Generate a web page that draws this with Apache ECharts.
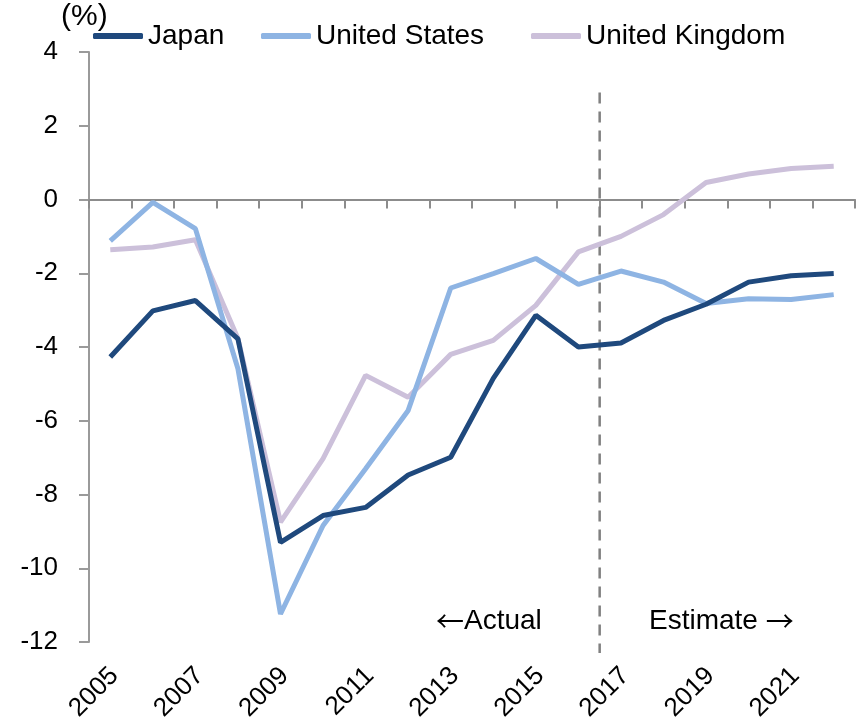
<!DOCTYPE html>
<html>
<head>
<meta charset="utf-8">
<script src="https://cdn.jsdelivr.net/npm/echarts@6/dist/echarts.min.js"></script>
<style>
  html, body { margin: 0; padding: 0; background: #fff; }
  #chart { width: 863px; height: 724px; }
</style>
</head>
<body>
<div id="chart"></div>
<script>
const years = ["2005", "2006", "2007", "2008", "2009", "2010", "2011", "2012", "2013",
  "2014", "2015", "2016", "2017", "2018", "2019", "2020", "2021", "2022"];

const japan = [-4.27, -3.02, -2.74, -3.78, -9.30, -8.57, -8.35, -7.47, -6.99,
  -4.85, -3.14, -4.00, -3.89, -3.28, -2.84, -2.24, -2.07, -2.01];
const unitedStates = [-1.12, -0.08, -0.79, -4.59, -11.24, -8.84, -7.30, -5.72, -2.40,
  -2.01, -1.60, -2.30, -1.94, -2.24, -2.82, -2.69, -2.71, -2.58];
const unitedKingdom = [-1.36, -1.29, -1.09, -3.77, -8.75, -7.03, -4.77, -5.36, -4.20,
  -3.82, -2.87, -1.42, -1.00, -0.41, 0.46, 0.69, 0.84, 0.90];

const yTicks = { min: -12, max: 4, interval: 2 };
// boundary between actual and estimate, in years
const dividerYear = 2016.5;
const dividerSpan = [2.9, -12.3];

const myChart = echarts.init(document.getElementById("chart"));

const font = "Liberation Sans, Arial";
function legendFor(name, left) {
  return {
    data: [name],
    left: left,
    top: 22,
    icon: "roundRect",
    itemWidth: 50,
    itemHeight: 6,
    itemGap: 0,
    padding: 0,
    textStyle: { fontSize: 28, color: "#000", fontFamily: font }
  };
}
const arrowStyle = { fontSize: 28, fontFamily: "Noto Sans CJK JP", fill: "#000" };

myChart.setOption({
  animation: false,
  color: ["#1F497D", "#8EB4E3", "#CCC0DA"],
  grid: { left: 89, right: 8, top: 52, bottom: 82, outerBoundsMode: "none" },
  legend: [
    legendFor("Japan", 93),
    legendFor("United States", 261),
    legendFor("United Kingdom", 531)
  ],
  graphic: [
    {
      type: "text", left: 61, top: 2,
      style: { text: "(%)", fontSize: 30, fontFamily: font, fill: "#000" }
    },
    {
      type: "text", left: 436, top: 607,
      style: {
        text: "{a|←}Actual", fontSize: 28, fontFamily: font, fill: "#000",
        rich: { a: arrowStyle }
      }
    },
    {
      type: "text", left: 649, top: 607,
      style: {
        text: "Estimate {a|→}", fontSize: 28, fontFamily: font, fill: "#000",
        rich: { a: arrowStyle }
      }
    }
  ],
  xAxis: [
    {
      type: "category",
      data: years,
      boundaryGap: true,
      axisLine: { onZero: true, onZeroAxisIndex: 0, lineStyle: { color: "#8c8c8c", width: 2 } },
      axisTick: { show: true, inside: false, length: 9, lineStyle: { color: "#8c8c8c", width: 2 } },
      axisLabel: { show: false }
    },
    {
      type: "category",
      data: years,
      position: "bottom",
      axisLine: { show: false },
      axisTick: { show: false },
      axisLabel: {
        interval: 1,
        rotate: 45,
        margin: 34,
        padding: [0, -6, 0, 0],
        fontSize: 26,
        color: "#000",
        fontFamily: font
      }
    },
    {
      type: "value",
      show: false,
      min: Number(years[0]) - 0.5,
      max: Number(years[years.length - 1]) + 0.5
    }
  ],
  yAxis: {
    type: "value",
    min: yTicks.min,
    max: yTicks.max,
    interval: yTicks.interval,
    splitLine: { show: false },
    axisLine: { show: true, onZero: false, lineStyle: { color: "#9a9a9a", width: 2 } },
    axisTick: { show: true, inside: false, length: 10, lineStyle: { color: "#9a9a9a", width: 2 } },
    axisLabel: { fontSize: 26, color: "#000", margin: 31, fontFamily: font }
  },
  series: [
    {
      name: "United Kingdom",
      type: "line",
      data: unitedKingdom,
      symbol: "none",
      z: 2,
      lineStyle: { width: 5, color: "#CCC0DA" },
      itemStyle: { color: "#CCC0DA" }
    },
    {
      name: "United States",
      type: "line",
      data: unitedStates,
      symbol: "none",
      z: 3,
      lineStyle: { width: 5, color: "#8EB4E3" },
      itemStyle: { color: "#8EB4E3" }
    },
    {
      name: "Japan",
      type: "line",
      data: japan,
      symbol: "none",
      z: 4,
      lineStyle: { width: 5, color: "#1F497D" },
      itemStyle: { color: "#1F497D" }
    },
    {
      name: "divider",
      type: "line",
      xAxisIndex: 2,
      yAxisIndex: 0,
      data: dividerSpan.map(v => [dividerYear, v]),
      symbol: "none",
      clip: false,
      silent: true,
      z: 1,
      lineStyle: { width: 2.5, color: "#808080", type: [11, 8] }
    }
  ]
});
</script>
</body>
</html>
